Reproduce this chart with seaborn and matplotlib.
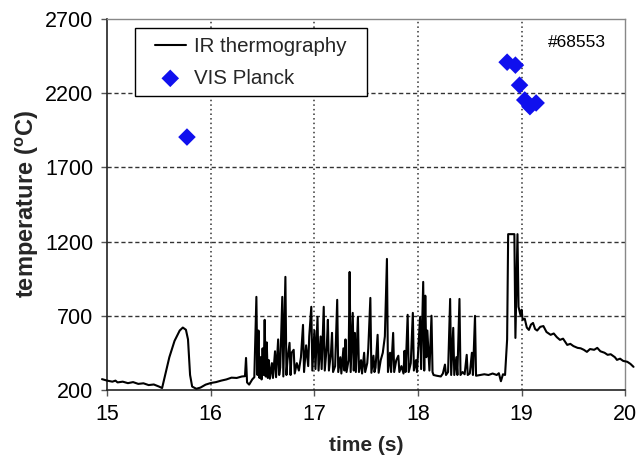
import matplotlib
matplotlib.use("Agg")
import matplotlib.pyplot as plt
from matplotlib.patches import Rectangle
import seaborn as sns
import pandas as pd

# ---- data ----
ir_time = [14.95, 15.0, 15.05, 15.08, 15.1, 15.15, 15.2, 15.25, 15.3, 15.35, 15.4, 15.45, 15.5, 15.53,
           15.56, 15.6, 15.65, 15.7, 15.73, 15.76, 15.78, 15.80, 15.82, 15.86, 15.9, 15.95, 16.0, 16.05,
           16.1, 16.15, 16.2, 16.25, 16.3, 16.33, 16.34, 16.35, 16.37, 16.4, 16.42,
           16.44, 16.45, 16.46, 16.47, 16.48, 16.49, 16.50, 16.51, 16.52, 16.53, 16.54, 16.55, 16.56, 16.57,
           16.59, 16.60, 16.62, 16.63, 16.65, 16.66, 16.67, 16.69, 16.70, 16.72, 16.73, 16.74, 16.76, 16.77,
           16.78, 16.80, 16.81, 16.83, 16.85, 16.87, 16.89, 16.90, 16.92, 16.94, 16.95, 16.97, 16.98, 17.00,
           17.01, 17.03, 17.04, 17.06, 17.07, 17.09, 17.10, 17.12, 17.13, 17.14, 17.16, 17.17, 17.18, 17.20,
           17.22, 17.23, 17.25, 17.26, 17.28, 17.29, 17.30, 17.31, 17.33, 17.34, 17.35, 17.37, 17.38, 17.39,
           17.40, 17.42, 17.43, 17.45, 17.46, 17.48, 17.49, 17.51, 17.52, 17.54, 17.55, 17.57, 17.58, 17.59,
           17.61, 17.62, 17.64, 17.66, 17.68, 17.70, 17.71, 17.73, 17.74, 17.76, 17.77, 17.79, 17.81, 17.82,
           17.84, 17.86, 17.87, 17.88, 17.90, 17.91, 17.93, 17.95, 17.96, 17.98, 17.99, 18.02, 18.03, 18.05,
           18.06, 18.07, 18.08, 18.09, 18.11, 18.13, 18.14, 18.15, 18.18, 18.22, 18.24, 18.26, 18.27, 18.29,
           18.31, 18.32, 18.34, 18.35, 18.37, 18.38, 18.40, 18.41, 18.43, 18.45, 18.47, 18.48, 18.50, 18.52,
           18.53, 18.55, 18.56, 18.60, 18.64, 18.68, 18.72, 18.76, 18.78, 18.80, 18.82, 18.84, 18.86, 18.87,
           18.93, 18.94, 18.96, 18.97, 18.99, 19.00, 19.01, 19.03, 19.05, 19.07, 19.09, 19.11, 19.13, 19.15,
           19.18, 19.21, 19.24, 19.28, 19.31, 19.34, 19.37, 19.40, 19.44, 19.47, 19.50, 19.54, 19.57, 19.60,
           19.63, 19.66, 19.70, 19.73, 19.76, 19.80, 19.83, 19.86, 19.90, 19.92, 19.95, 19.98, 20.02, 20.05,
           20.08]
ir_temp = [272, 262, 255, 262, 250, 255, 245, 252, 240, 244, 232, 236, 222, 212,
           300, 420, 530, 600, 620, 605, 540, 300, 222, 207, 215, 235, 246, 252,
           262, 270, 282, 280, 290, 292, 415, 250, 235, 270, 285,
           827, 300, 600, 280, 420, 270, 480, 300, 672, 290, 520, 280, 400, 275,
           380, 280, 460, 285, 540, 300, 350, 827, 290, 962, 300, 400, 517, 300,
           450, 470, 310, 380, 330, 420, 638, 320, 500, 360, 560, 760, 330, 600,
           340, 692, 330, 560, 340, 760, 330, 500, 672, 330, 450, 584, 320, 360,
           807, 320, 420, 310, 480, 330, 540, 320, 400, 995, 320, 719, 330, 584,
           320, 692, 320, 400, 310, 450, 320, 380, 480, 820, 315, 430, 320, 350,
           571, 315, 400, 450, 560, 1083, 320, 450, 320, 584, 320, 400, 430, 320,
           360, 310, 463, 320, 706, 320, 380, 719, 330, 400, 320, 692, 340, 928,
           330, 835, 420, 600, 330, 700, 320, 300, 295, 290, 310, 370, 300, 320,
           813, 300, 618, 300, 420, 300, 813, 300, 320, 305, 436, 300, 310, 450,
           300, 699, 295, 300, 305, 300, 310, 300, 312, 258, 305, 300, 540, 1250,
           1250, 550, 1250, 760, 700, 740, 672, 680, 620, 604, 640, 651, 610, 600,
           625, 630, 590, 571, 580, 555, 537, 545, 503, 510, 495, 483, 480, 470,
           456, 475, 470, 483, 460, 450, 436, 440, 420, 402, 410, 395, 389, 375,
           355]

vis_time = [15.77, 18.86, 18.94, 18.98, 19.03, 19.08, 19.14]
vis_temp = [1905, 2410, 2390, 2255, 2155, 2110, 2135]

x_ticks = [15, 16, 17, 18, 19, 20]
y_ticks = [200, 700, 1200, 1700, 2200, 2700]

shot_label = "#68553"

# ---- style ----
sns.set_theme(style="white")
plt.rcParams["font.family"] = ["Liberation Sans", "DejaVu Sans"]
plt.rcParams["mathtext.fontset"] = "custom"
plt.rcParams["mathtext.rm"] = "Liberation Sans"
plt.rcParams["mathtext.bf"] = "Liberation Sans:bold"

fig = plt.figure(figsize=(6.38, 4.57), dpi=100)
ax = fig.add_axes([0.168, 0.147, 0.812, 0.811])

ir_df = pd.DataFrame({"time": ir_time, "temp": ir_temp})
vis_df = pd.DataFrame({"time": vis_time, "temp": vis_temp})

sns.lineplot(data=ir_df, x="time", y="temp", ax=ax, color="black", linewidth=1.5,
             estimator=None, sort=False, label="IR thermography", zorder=3)
sns.scatterplot(data=vis_df, x="time", y="temp", ax=ax, color="#1010ee", marker="D",
                s=80, edgecolor="none", label="VIS Planck", zorder=4)

for ln in ax.lines:
    ln.set_clip_on(False)

ax.set_xlim(15, 20)
ax.set_ylim(200, 2700)
ax.set_xticks(x_ticks)
ax.set_yticks(y_ticks)

# grid
for xv in x_ticks[1:-1]:
    ax.axvline(xv, color="#333333", linestyle=(0, (1, 2)), linewidth=1.1, zorder=1)
for yv in y_ticks[1:-1]:
    ax.axhline(yv, color="#333333", linestyle=(0, (3, 2)), linewidth=1.0, zorder=1)

for side in ["top", "right"]:
    ax.spines[side].set_color("#888888")
    ax.spines[side].set_linewidth(1.0)
for side in ["left", "bottom"]:
    ax.spines[side].set_color("#222222")
    ax.spines[side].set_linewidth(1.2)

ax.tick_params(axis="both", which="both", direction="out", length=4, width=1,
               color="#555555", labelsize=15.5, pad=6, labelcolor="black",
               bottom=True, left=True)

ax.set_xlabel("time (s)", fontsize=15, fontweight="bold", labelpad=8)
ax.set_ylabel(r"temperature ($^{\mathbf{o}}$C)", fontsize=17, fontweight="bold", labelpad=3)

ax.text(19.53, 2545, shot_label, fontsize=12.5, ha="center", va="center", color="black")

# legend frame drawn as a rectangle, legend entries placed inside it
frame = Rectangle((0.054, 0.792), 0.448, 0.184, transform=ax.transAxes,
                  facecolor="white", edgecolor="black", linewidth=1.0, zorder=5)
ax.add_patch(frame)
leg = ax.legend(loc="upper left", bbox_to_anchor=(0.092, 0.952), borderaxespad=0,
                borderpad=0, fontsize=14.8, frameon=False,
                handlelength=1.5, handletextpad=0.4, labelspacing=0.62)
leg.set_zorder(6)

fig.savefig("out.png", dpi=100)
